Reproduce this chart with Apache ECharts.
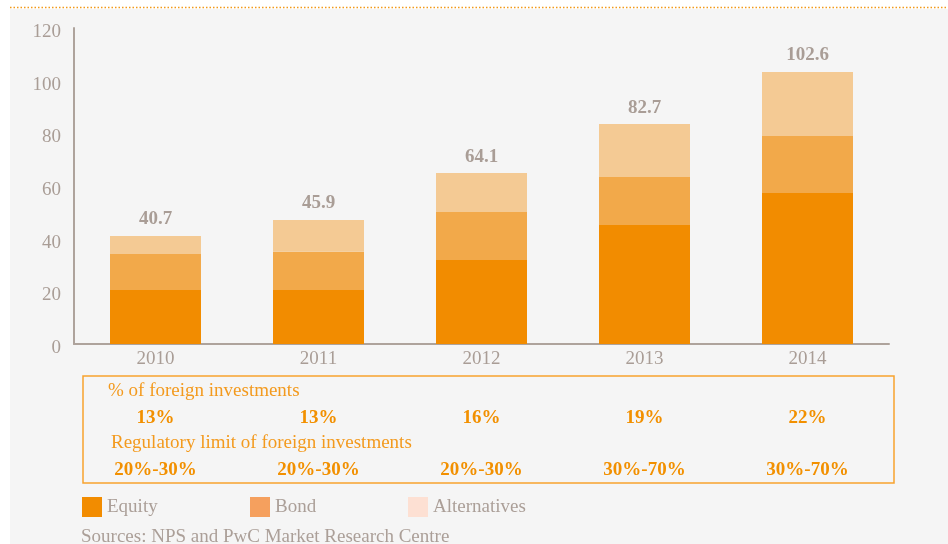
<!DOCTYPE html>
<html>
<head>
<meta charset="utf-8">
<script src="https://cdn.jsdelivr.net/npm/echarts@6/dist/echarts.min.js"></script>
<style>
html,body{margin:0;padding:0;background:#fff;}
#c{width:948px;height:544px;}
</style>
</head>
<body>
<div id="c"></div>
<script>
var years = ['2010', '2011', '2012', '2013', '2014'];
var equity = [20.5, 20.5, 31.9, 45.2, 57.3];
var bond = [13.7, 14.5, 18.2, 18.2, 21.7];
var alternatives = [6.8, 12.1, 14.8, 20.1, 24.3];
var totals = ['40.7', '45.9', '64.1', '82.7', '102.6'];
var foreignPct = ['13%', '13%', '16%', '19%', '22%'];
var regLimit = ['20%-30%', '20%-30%', '20%-30%', '30%-70%', '30%-70%'];
var yTicks = [0, 20, 40, 60, 80, 100, 120];
var legendNames = ['Equity', 'Bond', 'Alternatives'];
var legendColors = ['#f28c00', '#f5a05e', '#fde0d3'];
var legendLefts = [82, 250, 408];

var FONT = 'Liberation Serif';
var FS = 19;
var GRAY = '#a99d96';
var ORANGE = '#f29000';

var chart = echarts.init(document.getElementById('c'));
var extraAxis = function (data, offset) {
  return {
    type: 'category', data: data, position: 'bottom', offset: offset, gridIndex: 0,
    axisLine: {show: false}, axisTick: {show: false},
    axisLabel: {margin: 0, color: ORANGE, fontFamily: FONT, fontSize: FS, fontWeight: 'bold', verticalAlign: 'top'}
  };
};
var legends = legendNames.map(function (n, i) {
  return {
    left: legendLefts[i], top: 497, padding: 0, itemWidth: 20, itemHeight: 20, icon: 'rect',
    textStyle: {color: '#ab9f98', fontFamily: FONT, fontSize: FS},
    data: [{name: n, itemStyle: {color: legendColors[i]}}]
  };
});
chart.setOption({
  backgroundColor: '#ffffff',
  animation: false,
  grid: {left: 74, right: 59, top: 28, bottom: 200, containLabel: false},
  graphic: [
    {type: 'rect', shape: {x: 10, y: 9, width: 938, height: 535}, style: {fill: '#f5f5f5'}, z: -10},
    {type: 'line', shape: {x1: 10, y1: 7.5, x2: 948, y2: 7.5}, style: {stroke: '#f29a1a', lineWidth: 1.5, lineDash: [1.5, 2]}},
    {type: 'rect', shape: {x: 83, y: 376, width: 811, height: 107}, style: {fill: 'none', stroke: '#f7a22e', lineWidth: 1.5}},
    {type: 'text', left: 108, top: 382, style: {text: '% of foreign investments', fill: '#f39a1e', font: '19px "Liberation Serif"'}},
    {type: 'text', left: 111, top: 434, style: {text: 'Regulatory limit of foreign investments', fill: '#f39a1e', font: '19px "Liberation Serif"'}},
    {type: 'text', left: 81, top: 528, style: {text: 'Sources: NPS and PwC Market Research Centre', fill: '#ab9f98', font: '19px "Liberation Serif"'}}
  ],
  legend: legends,
  xAxis: [
    {
      type: 'category', data: years,
      axisLine: {lineStyle: {color: '#aea39c', width: 2}},
      axisTick: {show: false},
      axisLabel: {color: GRAY, fontFamily: FONT, fontSize: FS, margin: 6}
    },
    extraAxis(foreignPct, 65),
    extraAxis(regLimit, 117)
  ],
  yAxis: {
    type: 'value', min: yTicks[0], max: yTicks[yTicks.length - 1], interval: 20,
    axisLine: {show: true, lineStyle: {color: '#aea39c', width: 2}},
    axisTick: {show: false}, splitLine: {show: false},
    axisLabel: {color: GRAY, fontFamily: FONT, fontSize: FS, margin: 13, verticalAlign: 'top', lineHeight: 8}
  },
  series: [
    {name: 'Equity', type: 'bar', stack: 't', barWidth: 91, data: equity, itemStyle: {color: '#f28c00'}},
    {name: 'Bond', type: 'bar', stack: 't', barWidth: 91, data: bond, itemStyle: {color: '#f2a94a'}},
    {name: 'Alternatives', type: 'bar', stack: 't', barWidth: 91, data: alternatives, itemStyle: {color: '#f4ca94'},
      label: {show: true, position: 'top', distance: 7, color: GRAY, fontFamily: FONT, fontSize: FS, fontWeight: 'bold',
        formatter: function (p) { return totals[p.dataIndex]; }}}
  ]
});
</script>
</body>
</html>
